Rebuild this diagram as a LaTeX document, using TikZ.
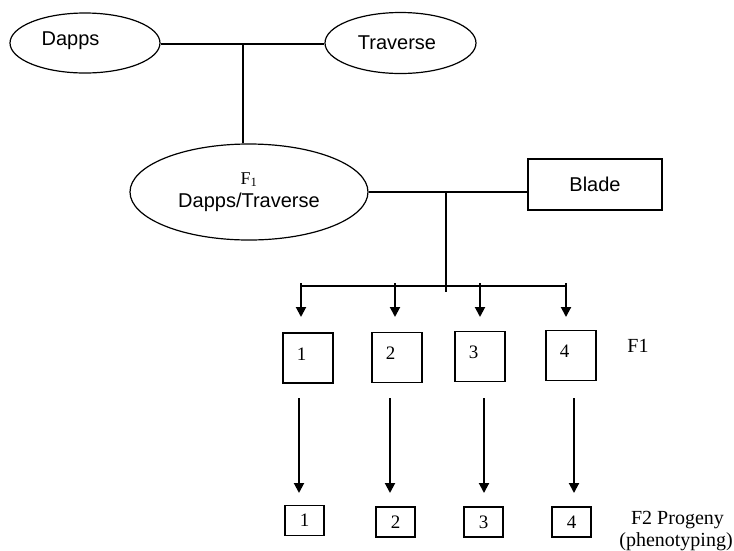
\documentclass[tikz,border=0pt]{standalone}
\usepackage{fontspec}
\setmainfont{Liberation Serif}
\setsansfont{Liberation Sans}
\usetikzlibrary{shapes.geometric,arrows.meta}
\begin{document}
\begin{tikzpicture}[x=1pt,y=-1pt,
  oval/.style={ellipse,draw,line width=1.2pt,inner sep=0pt,align=center,
    font=\sffamily\fontsize{20}{24}\selectfont},
  sanstext/.style={font=\sffamily\fontsize{20}{24}\selectfont},
  conn/.style={line width=1.8pt},
  arr/.style={line width=2pt,-{Triangle[width=10pt,length=10pt]}},
  bigbox/.style={draw,line width=1.6pt,minimum width=50pt,minimum height=50pt,inner sep=0pt},
  smallbox/.style={draw,line width=1.6pt,minimum width=39pt,minimum height=30pt,inner sep=0pt,
    font=\fontsize{19}{22}\selectfont},
  num/.style={font=\fontsize{19}{22}\selectfont,inner sep=0pt,xshift=-6.5pt,yshift=4pt},
  lab/.style={font=\fontsize{20}{22}\selectfont,inner sep=0pt}
]
\useasboundingbox (0,0) rectangle (734,550);

% parents
\node[oval,minimum width=150pt,minimum height=60pt,
  label={[sanstext,xshift=-14.5pt,yshift=2pt]center:Dapps}] (dapps) at (85,43) {};
\node[oval,minimum width=151pt,minimum height=61pt] (trav) at (400.5,43) {\makebox[0pt]{\kern-7pt Traverse}};
\coordinate (j1) at (243,44);
\draw[conn] (dapps.east |- j1) -- (trav.west |- j1);

% F1 hybrid
\node[oval,minimum width=238pt,minimum height=96pt] (f1) at (249,192)
  {{\rmfamily\fontsize{18}{22}\selectfont F\textsubscript{1}}\\[-1pt]Dapps/Traverse};
\draw[conn] (j1) -- (j1 |- f1.north);

% Blade
\node[draw,line width=1.6pt,minimum width=134pt,minimum height=51pt,inner sep=0pt,sanstext]
  (blade) at (595,184.5) {Blade};
\draw[conn] (f1.east) -- (f1.east -| blade.west);

% branch down
\coordinate (j2) at (446,192);
\coordinate (j3) at (446,292);
\draw[conn] (j2) -- (j3);
\coordinate (bl) at (301,286);
\coordinate (br) at (566,286);
\draw[conn] (bl) -- (br);

\coordinate (t1) at (301,283); \coordinate (h1) at (301,317);
\coordinate (t2) at (395,283); \coordinate (h2) at (395,317);
\coordinate (t3) at (480,283); \coordinate (h3) at (480,317);
\coordinate (t4) at (566,283); \coordinate (h4) at (566,317);
\foreach \i in {1,...,4} \draw[arr] (t\i) -- (h\i);

% F1 boxes
\node[bigbox,label={[num]center:1}] (b1) at (308,358) {};
\node[bigbox,label={[num]center:2}] (b2) at (397,357.5) {};
\node[bigbox,label={[num]center:3}] (b3) at (480,356.5) {};
\node[bigbox,label={[num]center:4}] (b4) at (571,355.5) {};
\node[lab] (f1lab) at (638,345.5) {F1};

% long arrows
\coordinate (s1) at (299,398); \coordinate (e1) at (299,493);
\coordinate (s2) at (390,398); \coordinate (e2) at (390,493);
\coordinate (s3) at (484,398); \coordinate (e3) at (484,493);
\coordinate (s4) at (574,398); \coordinate (e4) at (574,493);
\foreach \i in {1,...,4} \draw[arr] (s\i) -- (e\i);

% F2 boxes
\node[smallbox] (c1) at (304.5,520.5) {1};
\node[smallbox] (c2) at (395.5,522) {2};
\node[smallbox] (c3) at (483.5,522) {3};
\node[smallbox] (c4) at (571.5,522) {4};
\node[lab,anchor=base] (f2a) at (677.5,524) {F2 Progeny};
\node[lab,anchor=base] (f2b) at (676,546) {(phenotyping)};
\end{tikzpicture}
\end{document}
